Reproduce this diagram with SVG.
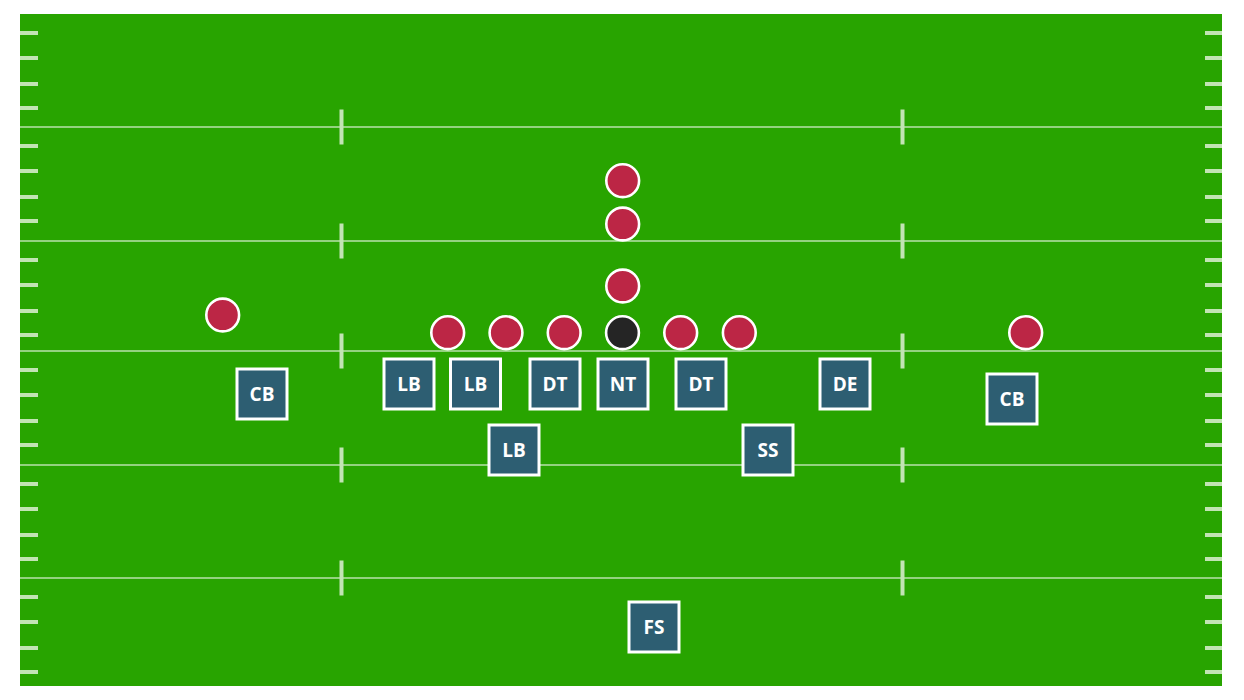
<svg xmlns="http://www.w3.org/2000/svg" width="1244" height="700" viewBox="0 0 1244 700">
<defs>
<style>
.field{fill:#28a400}
.yard{stroke:#ffffff;stroke-width:1.2}
.tick{fill:#c2e4b4}
.off{fill:#bc2645;stroke:#ffffff;stroke-width:2.6}
.ctr{fill:#252525;stroke:#ffffff;stroke-width:2.6}
.def rect{fill:#2d5e72;stroke:#ffffff;stroke-width:3}
.def text{fill:#ffffff;font-family:"Open Sans","Liberation Sans",sans-serif;font-weight:bold;font-size:19px;text-anchor:middle;dominant-baseline:central}
</style>
<g id="tickL">
<rect x="20" y="31" width="18" height="4" class="tick"/>
<rect x="20" y="56" width="18" height="4" class="tick"/>
<rect x="20" y="82" width="18" height="4" class="tick"/>
<rect x="20" y="106" width="18" height="4" class="tick"/>
</g>
<g id="tickR">
<rect x="1205" y="31" width="17" height="4" class="tick"/>
<rect x="1205" y="56" width="17" height="4" class="tick"/>
<rect x="1205" y="82" width="17" height="4" class="tick"/>
<rect x="1205" y="106" width="17" height="4" class="tick"/>
</g>
</defs>
<rect width="1244" height="700" fill="#ffffff"/>
<g id="field">
<rect class="field" x="20" y="14" width="1202" height="672"/>
<line class="yard" x1="20" y1="127" x2="1222" y2="127"/>
<line class="yard" x1="20" y1="241" x2="1222" y2="241"/>
<line class="yard" x1="20" y1="351" x2="1222" y2="351"/>
<line class="yard" x1="20" y1="465" x2="1222" y2="465"/>
<line class="yard" x1="20" y1="578" x2="1222" y2="578"/>
<use href="#tickL" y="0"/><use href="#tickL" y="113"/><use href="#tickL" y="227"/><use href="#tickL" y="337"/><use href="#tickL" y="451"/><use href="#tickL" y="564"/>
<use href="#tickR" y="0"/><use href="#tickR" y="113"/><use href="#tickR" y="227"/><use href="#tickR" y="337"/><use href="#tickR" y="451"/><use href="#tickR" y="564"/>
<rect class="tick" x="339.5" y="109.5" width="4" height="35"/>
<rect class="tick" x="339.5" y="223.5" width="4" height="35"/>
<rect class="tick" x="339.5" y="333.5" width="4" height="35"/>
<rect class="tick" x="339.5" y="447.5" width="4" height="35"/>
<rect class="tick" x="339.5" y="560.5" width="4" height="35"/>
<rect class="tick" x="900.5" y="109.5" width="4" height="35"/>
<rect class="tick" x="900.5" y="223.5" width="4" height="35"/>
<rect class="tick" x="900.5" y="333.5" width="4" height="35"/>
<rect class="tick" x="900.5" y="447.5" width="4" height="35"/>
<rect class="tick" x="900.5" y="560.5" width="4" height="35"/>
</g>
<g id="connectors"></g>
<g id="offense">
<circle id="o1" class="off" cx="622.7" cy="180.7" r="16.4"/>
<circle id="o2" class="off" cx="622.7" cy="224" r="16.4"/>
<circle id="o3" class="off" cx="622.7" cy="286" r="16.4"/>
<circle id="o4" class="off" cx="447.7" cy="332.7" r="16.4"/>
<circle id="o5" class="off" cx="506" cy="332.7" r="16.4"/>
<circle id="o6" class="off" cx="564.2" cy="332.7" r="16.4"/>
<circle id="o7" class="ctr" cx="622.5" cy="332.7" r="16.4"/>
<circle id="o8" class="off" cx="680.7" cy="332.7" r="16.4"/>
<circle id="o9" class="off" cx="739.3" cy="332.7" r="16.4"/>
<circle id="o10" class="off" cx="222.7" cy="315" r="16.4"/>
<circle id="o11" class="off" cx="1025.7" cy="332.7" r="16.4"/>
</g>
<g id="cb1" class="def"><rect x="237" y="369" width="50" height="50"/><text x="262" y="394">CB</text></g>
<g id="lb1" class="def"><rect x="384" y="359" width="50" height="50"/><text x="409" y="384">LB</text></g>
<g id="lb2" class="def"><rect x="450.5" y="359" width="50" height="50"/><text x="475.5" y="384">LB</text></g>
<g id="dt1" class="def"><rect x="530" y="359" width="50" height="50"/><text x="555" y="384">DT</text></g>
<g id="nt" class="def"><rect x="598" y="359" width="50" height="50"/><text x="623" y="384">NT</text></g>
<g id="dt2" class="def"><rect x="676" y="359" width="50" height="50"/><text x="701" y="384">DT</text></g>
<g id="de" class="def"><rect x="820" y="359" width="50" height="50"/><text x="845" y="384">DE</text></g>
<g id="cb2" class="def"><rect x="987" y="374" width="50" height="50"/><text x="1012" y="399">CB</text></g>
<g id="lb3" class="def"><rect x="489" y="425" width="50" height="50"/><text x="514" y="450">LB</text></g>
<g id="ss" class="def"><rect x="743" y="425" width="50" height="50"/><text x="768" y="450">SS</text></g>
<g id="fs" class="def"><rect x="629" y="602" width="50" height="50"/><text x="654" y="627">FS</text></g>
</svg>
